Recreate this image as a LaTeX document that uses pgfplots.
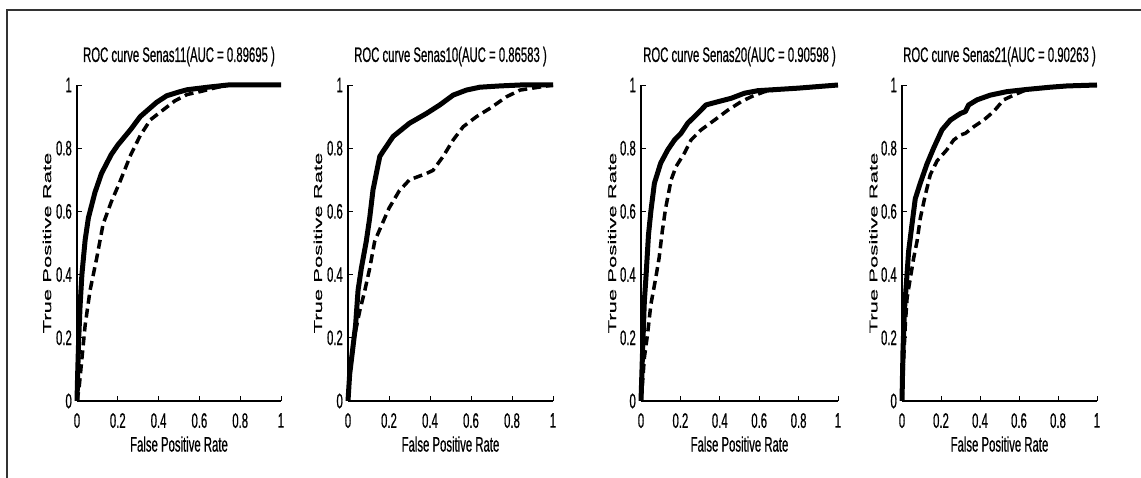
\documentclass[border=0pt]{standalone}
\usepackage{pgfplots}
\pgfplotsset{compat=1.18}
\usepackage{fontspec}
\setmainfont{Liberation Sans}
\newfontfamily\narrowfont[FakeStretch=0.54,FakeBold=0.6]{Liberation Sans}
\newfontfamily\tallfont[FakeStretch=1.92,FakeBold=0.6]{Liberation Sans}

\pgfplotsset{
  rocax/.style={
    scale only axis, width=#1, height=316bp,
    xmin=0, xmax=1, ymin=0, ymax=1, clip=false,
    axis lines=left, axis line style={-, line width=1.4bp, black},
    tick align=inside, major tick length=5bp,
    tick style={line width=0.9bp, black},
    xtick={0,0.2,0.4,0.6,0.8,1}, ytick={0,0.2,0.4,0.6,0.8,1},
    /pgf/number format/assume math mode=true,
    ticklabel style={font=\narrowfont\fontsize{21bp}{21bp}\selectfont, inner sep=0pt},
    xticklabel style={anchor=north, yshift=-12bp},
    yticklabel style={anchor=east, xshift=-5bp},
    title style={font=\narrowfont\fontsize{21bp}{21bp}\selectfont, inner sep=0pt,
      at={(axis description cs:0.5,1.054)}, anchor=base},
    xlabel={False Positive Rate},
    xlabel style={font=\narrowfont\fontsize{21bp}{21bp}\selectfont, inner sep=0pt,
      at={(axis description cs:0.5,-0.16)}, anchor=base},
    ylabel={True Positive Rate},
    ylabel style={font=\tallfont\fontsize{11.5bp}{11.5bp}\selectfont, inner sep=0pt,
      at={(axis description cs:-0.147,0.5)}, anchor=center},
  },
  roc solid/.style={black, line width=5bp, line join=round, no marks},
  roc dashed/.style={black, line width=3.5bp, dash pattern=on 9bp off 5bp, no marks},
}

\begin{document}
\begin{tikzpicture}
\useasboundingbox (0,0) rectangle (1141bp,478bp);
\draw[black!80, line width=1.3bp] (7bp,0) -- (7bp,468bp) -- (1141bp,468bp);

% Senas11
\begin{axis}[rocax=204bp, at={(77bp,77bp)}, anchor=south west,
  title={ROC curve Senas11(AUC = 0.89695 )}]
\addplot[roc dashed] coordinates {
 (0,0) (0.01,0.04) (0.016,0.08) (0.04,0.24) (0.064,0.35) (0.096,0.45)
 (0.128,0.56) (0.168,0.63) (0.208,0.69) (0.264,0.78) (0.31,0.84) (0.36,0.89)
 (0.42,0.92) (0.48,0.95) (0.54,0.97) (0.61,0.98) (0.67,0.99) (0.74,1) (1,1)};
\addplot[roc solid] coordinates {
 (0,0) (0.003,0.08) (0.008,0.19) (0.015,0.30) (0.024,0.40) (0.04,0.51)
 (0.056,0.58) (0.088,0.66) (0.12,0.72) (0.168,0.78) (0.2,0.81) (0.264,0.86)
 (0.31,0.90) (0.39,0.945) (0.44,0.966) (0.5,0.978) (0.54,0.985) (0.64,0.993)
 (0.74,1) (1,1)};
\end{axis}

% Senas10
\begin{axis}[rocax=205bp, at={(348bp,77bp)}, anchor=south west,
  title={ROC curve Senas10(AUC = 0.86583 )}]
\addplot[roc dashed] coordinates {
 (0,0) (0.01,0.1) (0.03,0.2) (0.057,0.284) (0.081,0.347) (0.106,0.42)
 (0.13,0.505) (0.163,0.555) (0.2,0.61) (0.25,0.665) (0.30,0.70) (0.383,0.72)
 (0.415,0.73) (0.464,0.774) (0.513,0.826) (0.562,0.868) (0.627,0.9)
 (0.692,0.926) (0.774,0.963) (0.84,0.984) (0.9,0.99) (1,1)};
\addplot[roc solid] coordinates {
 (0,0) (0.008,0.084) (0.024,0.17) (0.037,0.24) (0.049,0.35) (0.065,0.42)
 (0.089,0.505) (0.106,0.58) (0.122,0.668) (0.155,0.774) (0.171,0.79)
 (0.22,0.837) (0.30,0.879) (0.383,0.91) (0.448,0.937) (0.513,0.968)
 (0.578,0.984) (0.643,0.993) (0.74,0.997) (0.84,1) (1,1)};
\end{axis}

% Senas20
\begin{axis}[rocax=197bp, at={(641bp,77bp)}, anchor=south west,
  title={ROC curve Senas20(AUC = 0.90598 )}]
\addplot[roc dashed] coordinates {
 (0,0) (0.008,0.06) (0.017,0.137) (0.033,0.21) (0.05,0.305) (0.075,0.39)
 (0.092,0.453) (0.108,0.537) (0.125,0.61) (0.153,0.7) (0.178,0.742)
 (0.22,0.784) (0.254,0.826) (0.305,0.858) (0.373,0.889) (0.44,0.92)
 (0.508,0.947) (0.56,0.963) (0.627,0.979) (0.7,0.986) (0.797,0.99)
 (0.898,0.995) (1,1)};
\addplot[roc solid] coordinates {
 (0,0) (0.008,0.158) (0.017,0.316) (0.025,0.39) (0.038,0.526) (0.05,0.6)
 (0.068,0.689) (0.10,0.753) (0.136,0.795) (0.17,0.826) (0.203,0.847)
 (0.237,0.879) (0.288,0.91) (0.33,0.937) (0.39,0.947) (0.458,0.958)
 (0.525,0.974) (0.593,0.982) (0.695,0.986) (0.797,0.99) (0.898,0.995) (1,1)};
\end{axis}

% Senas21
\begin{axis}[rocax=195bp, at={(902bp,77bp)}, anchor=south west,
  title={ROC curve Senas21(AUC = 0.90263 )}]
\addplot[roc dashed] coordinates {
 (0,0) (0.009,0.137) (0.017,0.242) (0.026,0.326) (0.043,0.39) (0.06,0.453)
 (0.077,0.505) (0.094,0.579) (0.12,0.653) (0.145,0.716) (0.18,0.76)
 (0.23,0.795) (0.265,0.826) (0.3,0.842) (0.325,0.847) (0.368,0.868)
 (0.419,0.889) (0.47,0.916) (0.521,0.953) (0.573,0.968) (0.641,0.986)
 (0.76,0.993) (0.846,0.997) (1,1)};
\addplot[roc solid] coordinates {
 (0,0) (0.005,0.158) (0.012,0.284) (0.022,0.368) (0.034,0.474) (0.051,0.558)
 (0.068,0.64) (0.094,0.69) (0.128,0.75) (0.162,0.80) (0.205,0.858)
 (0.248,0.889) (0.3,0.91) (0.325,0.916) (0.342,0.937) (0.385,0.953)
 (0.453,0.968) (0.538,0.979) (0.641,0.986) (0.76,0.993) (0.846,0.997) (1,1)};
\end{axis}
\end{tikzpicture}
\end{document}
